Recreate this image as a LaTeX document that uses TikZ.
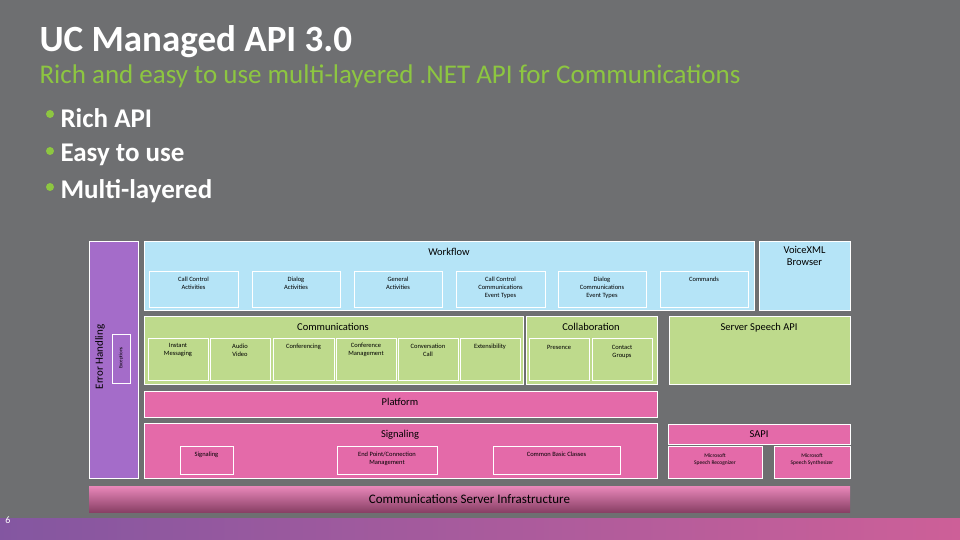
\documentclass[tikz,border=0pt]{standalone}
\usepackage{fontspec}
\setmainfont{Carlito}
\definecolor{bg}{HTML}{6E6F71}
\definecolor{wfb}{HTML}{B5E4F7}
\definecolor{grn}{HTML}{BEDA8C}
\definecolor{pnk}{HTML}{E46AA9}
\definecolor{prp}{HTML}{A46CC9}
\definecolor{ttlg}{HTML}{8DC641}
\begin{document}
\begin{tikzpicture}[x=1pt,y=-1pt,
  box/.style={draw=white,line width=0.8pt},
  lbl/.style={font=\fontsize{6.5}{8}\selectfont,align=center,text=black,anchor=north},
  hdr/.style={font=\fontsize{10.5}{12}\selectfont,text=black,anchor=north}]
\fill[bg] (0,0) rectangle (960,540);
\useasboundingbox (0,0) rectangle (960,540);
\shade[left color=prp!80!black,right color=pnk!90!black] (0,518) rectangle (960,540);
\node[text=white,font=\fontsize{10}{12}\selectfont] (pg) at (8,520) {6};
\node[anchor=west,text=white,font=\bfseries\fontsize{37}{40}\selectfont] (t) at (36,42) {UC Managed API 3.0};
\node[anchor=west,text=ttlg,font=\fontsize{27}{30}\selectfont] (st) at (36,76) {Rich and easy to use multi-layered .NET API for Communications};
\foreach \y/\t [count=\i] in {118/Rich API,155/Easy to use,191/Multi-layered}{
  \fill[ttlg] (50,\y-4) circle (4);
  \node[anchor=west,text=white,font=\bfseries\fontsize{27}{30}\selectfont] (b\i) at (57,\y) {\t};
}
% Error handling
\draw[box,fill=prp] (89,241) rectangle (138,478);
\node[rotate=90,font=\fontsize{11}{12}\selectfont,text=black] (eh) at (100,357) {Error Handling};
\draw[box,fill=prp] (112,334) rectangle (130,383);
\node[rotate=90,font=\fontsize{5}{6}\selectfont,text=black] (ex) at (121,358) {Exceptions};
% Workflow
\draw[box,fill=wfb] (144,241) rectangle (754,310);
\node[hdr] (wf) at (449,245) {Workflow};
\foreach \a/\b/\t [count=\i] in {149/238/{Call Control\\Activities},252/340/{Dialog\\Activities},354/442/{General\\Activities},456/545/{Call Control\\Communications\\Event Types},558/646/{Dialog\\Communications\\Event Types},660/748/{Commands}}{
  \draw[box] (\a,271) rectangle (\b,307);
  \node[lbl] (w\i) at ({(\a+\b)/2},273) {\t};
}
\draw[box,fill=wfb] (759,241) rectangle (850,310);
\node[hdr,align=center] (vx) at (804.5,243) {VoiceXML\\Browser};
% Communications
\draw[box,fill=grn] (144,316) rectangle (523,384);
\node[hdr] (cm) at (333,320) {Communications};
\foreach \a/\b/\t [count=\i] in {148/208/{Instant\\Messaging},210/270/{Audio\\Video},273/334/{Conferencing},336/396/{Conference\\Management},398/458/{Conversation\\Call},460/520/{Extensibility}}{
  \draw[box] (\a,338) rectangle (\b,380);
  \node[lbl] (c\i) at ({(\a+\b)/2},340) {\t};
}
\draw[box,fill=grn] (526,316) rectangle (657,384);
\node[hdr] (co) at (591,320) {Collaboration};
\draw[box] (529,338) rectangle (589,380);
\node[lbl] (pr) at (559,342) {Presence};
\draw[box] (592,338) rectangle (652,380);
\node[lbl] (cg) at (622,342) {Contact\\Groups};
\draw[box,fill=grn] (669,316) rectangle (850,384);
\node[hdr] (ss) at (759,320) {Server Speech API};
% Platform / Signaling
\draw[box,fill=pnk] (144,391) rectangle (657,417);
\node[hdr] (pl) at (400,395) {Platform};
\draw[box,fill=pnk] (144,423) rectangle (657,478);
\node[hdr] (sg) at (400,427) {Signaling};
\foreach \a/\b/\t [count=\i] in {180/233/{Signaling},337/437/{End Point/Connection\\Management},493/620/{Common Basic Classes}}{
  \draw[box] (\a,446) rectangle (\b,474);
  \node[lbl] (s\i) at ({(\a+\b)/2},448) {\t};
}
\draw[box,fill=pnk] (668,424) rectangle (850,444);
\node[hdr] (sa) at (759,427) {SAPI};
\draw[box,fill=pnk] (668,446) rectangle (762,478);
\node[lbl,font=\fontsize{5.5}{7}\selectfont] (m1) at (715,450) {Microsoft\\Speech Recognizer};
\draw[box,fill=pnk] (774,446) rectangle (850,478);
\node[lbl,font=\fontsize{5.5}{7}\selectfont] (m2) at (812,450) {Microsoft\\Speech Synthesizer};
% CSI
\shade[top color=pnk!80!white,bottom color=pnk!60!black] (89,486) rectangle (850,512);
\node[font=\fontsize{13}{15}\selectfont,text=black] (csi) at (469.5,499) {Communications Server Infrastructure};
\end{tikzpicture}
\end{document}
